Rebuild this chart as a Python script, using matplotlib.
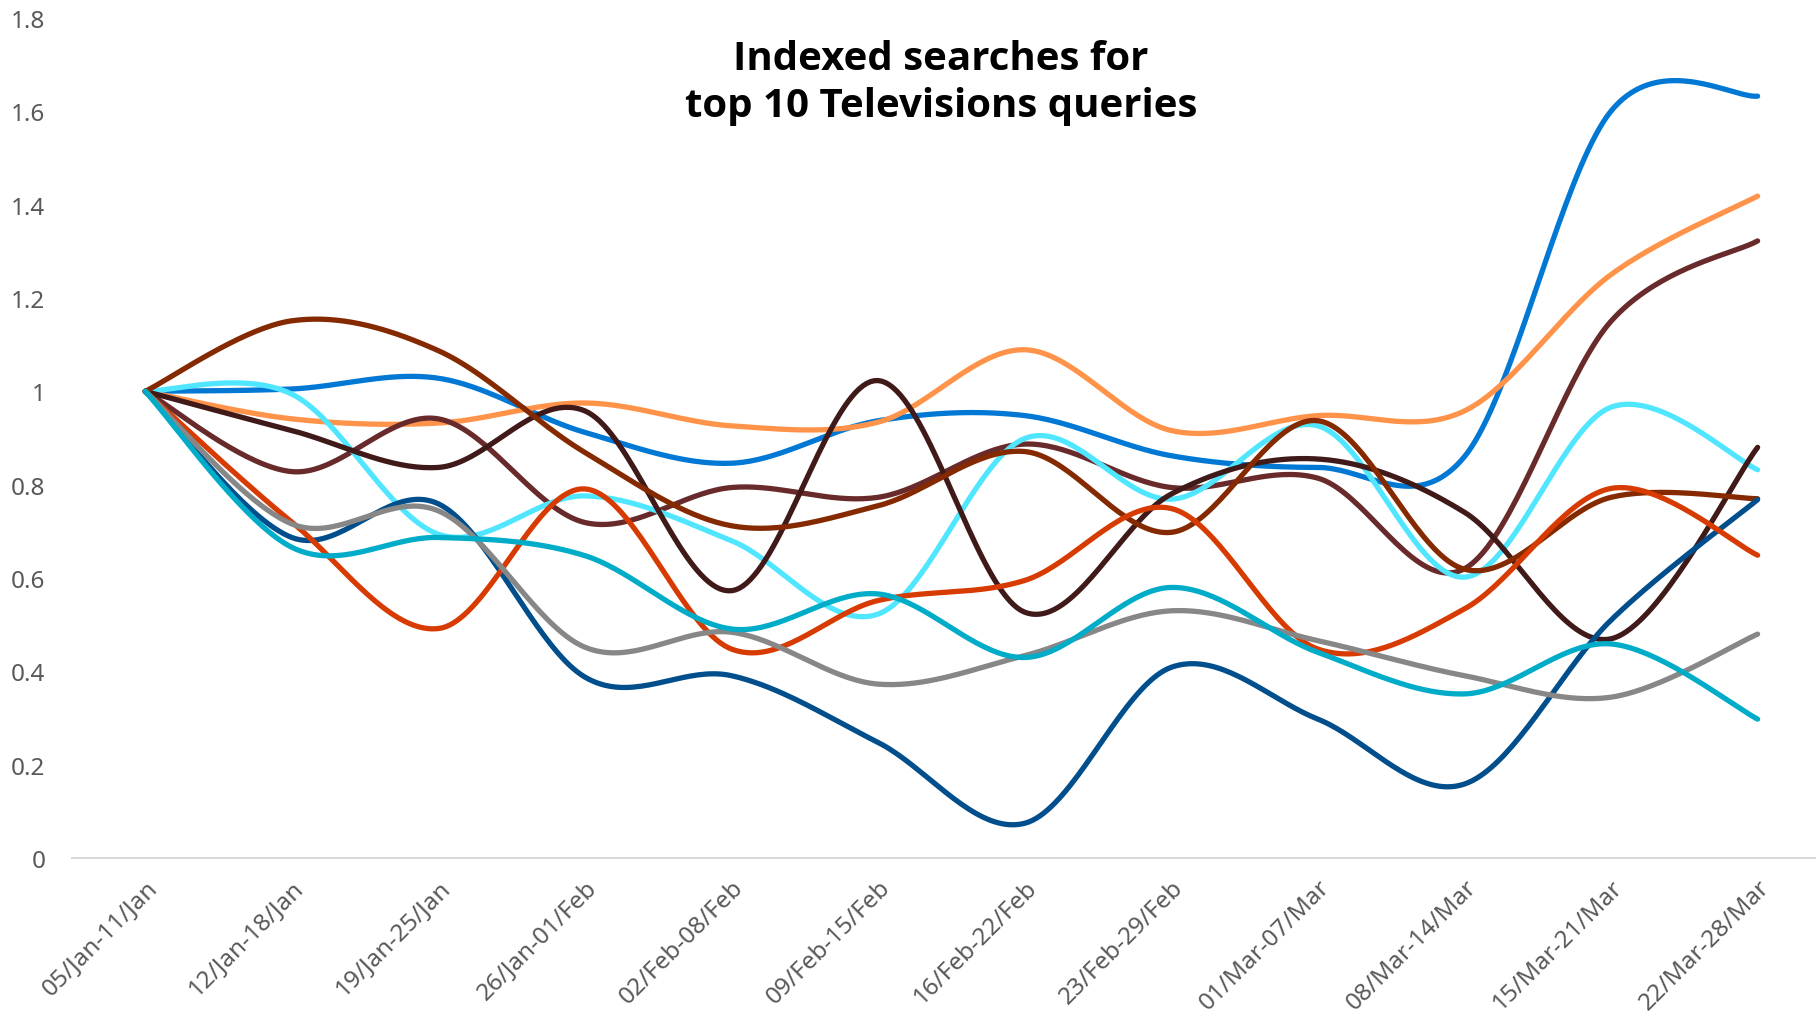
import numpy as np
import matplotlib.pyplot as plt

weeks = ["05/Jan-11/Jan", "12/Jan-18/Jan", "19/Jan-25/Jan", "26/Jan-01/Feb",
         "02/Feb-08/Feb", "09/Feb-15/Feb", "16/Feb-22/Feb", "23/Feb-29/Feb",
         "01/Mar-07/Mar", "08/Mar-14/Mar", "15/Mar-21/Mar", "22/Mar-28/Mar"]

q_blue = [1.0, 1.005, 1.028, 0.912, 0.846, 0.937, 0.948, 0.862, 0.837, 0.86, 1.60, 1.632]
q_orange = [1.0, 0.941, 0.932, 0.975, 0.926, 0.934, 1.089, 0.916, 0.948, 0.958, 1.25, 1.418]
q_maroon = [1.0, 0.828, 0.941, 0.719, 0.794, 0.773, 0.887, 0.794, 0.814, 0.62, 1.15, 1.322]
q_cyan = [1.0, 0.994, 0.694, 0.776, 0.68, 0.523, 0.899, 0.769, 0.926, 0.602, 0.966, 0.832]
q_darkbrown = [1.0, 0.916, 0.837, 0.958, 0.573, 1.023, 0.527, 0.78, 0.855, 0.741, 0.47, 0.88]
q_rust = [1.0, 1.151, 1.087, 0.869, 0.712, 0.755, 0.871, 0.698, 0.937, 0.619, 0.773, 0.770]
q_navy = [1.0, 0.687, 0.759, 0.388, 0.391, 0.248, 0.075, 0.409, 0.298, 0.159, 0.51, 0.768]
q_red = [1.0, 0.72, 0.492, 0.791, 0.448, 0.552, 0.595, 0.749, 0.448, 0.534, 0.792, 0.649]
q_gray = [1.0, 0.716, 0.744, 0.452, 0.484, 0.373, 0.434, 0.53, 0.466, 0.391, 0.345, 0.48]
q_teal = [1.0, 0.666, 0.687, 0.648, 0.491, 0.566, 0.43, 0.58, 0.441, 0.352, 0.459, 0.298]

series = [
    (q_blue, "#0078D4"),
    (q_orange, "#FF9349"),
    (q_maroon, "#682A2A"),
    (q_cyan, "#50E6FF"),
    (q_darkbrown, "#401919"),
    (q_rust, "#842900"),
    (q_navy, "#004E8C"),
    (q_red, "#D83B01"),
    (q_gray, "#878787"),
    (q_teal, "#00ACC8"),
]


def smooth(y, steps=40):
    # excel-style smoothed line: cubic bezier with catmull-rom control points
    y = np.asarray(y, dtype=float)
    x = np.arange(len(y), dtype=float)
    pts = np.column_stack([x, y])
    xs, ys = [], []
    t = np.linspace(0, 1, steps)
    for i in range(len(pts) - 1):
        p0 = pts[max(i - 1, 0)]
        p1 = pts[i]
        p2 = pts[i + 1]
        p3 = pts[min(i + 2, len(pts) - 1)]
        c1 = p1 + (p2 - p0) / 6
        c2 = p2 - (p3 - p1) / 6
        seg = ((1 - t) ** 3)[:, None] * p1 + (3 * (1 - t) ** 2 * t)[:, None] * c1 \
            + (3 * (1 - t) * t ** 2)[:, None] * c2 + (t ** 3)[:, None] * p2
        xs.append(seg[:, 0])
        ys.append(seg[:, 1])
    return np.concatenate(xs), np.concatenate(ys)


plt.rcParams['font.family'] = ['Noto Sans', 'DejaVu Sans']

fig = plt.figure(figsize=(18.16, 10.12), dpi=100)
ax = fig.add_axes([0.0396, 0.1509, 0.9686, 0.8306])

for values, color in series:
    sx, sy = smooth(values)
    ax.plot(sx, sy, color=color, linewidth=3.8, solid_capstyle="round")

ax.set_xlim(-0.5, len(weeks) - 0.5)
ax.set_ylim(0, 1.8)
ax.set_yticks(np.arange(0, 1.81, 0.2))
ax.set_yticklabels(["0", "0.2", "0.4", "0.6", "0.8", "1", "1.2", "1.4", "1.6", "1.8"])
ax.set_xticks(range(len(weeks)))
ax.set_xticklabels(weeks, rotation=45, ha="right", va="top", rotation_mode="anchor")

for side in ["top", "right", "left"]:
    ax.spines[side].set_visible(False)
ax.spines["bottom"].set_color("#D9D9D9")
ax.spines["bottom"].set_linewidth(1.5)
ax.tick_params(axis="both", length=0, labelsize=17.5, labelcolor="#595959")
ax.tick_params(axis="y", pad=19)
ax.tick_params(axis="x", pad=12)

fig.text(0.518, 0.918, "Indexed searches for\ntop 10 Televisions queries",
         ha="center", va="center", fontsize=29, fontweight="bold",
         family=["Open Sans", "Lato", "DejaVu Sans"],
         color="black", linespacing=1.28)

plt.savefig("out.png")
